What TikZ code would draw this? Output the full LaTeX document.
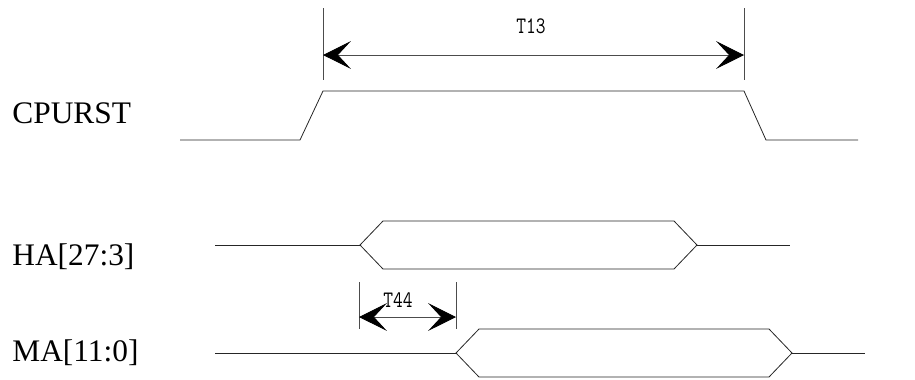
\documentclass[tikz,border=0pt]{standalone}
\usepackage{fontspec}
\setmainfont{Liberation Serif}
\usetikzlibrary{arrows.meta}

\begin{document}
\begin{tikzpicture}[x=1bp, y=-1bp, line width=0.8bp,
  every signal/.style={font=\fontsize{31.5}{31.5}\selectfont, anchor=base west, inner sep=0pt},
  wave/.style={draw=black!85},
  tickline/.style={draw=black!70},
  dimarrow/.style={draw=black!70, {Stealth[length=28bp,width=28bp,inset=13bp,black]}-{Stealth[length=28bp,width=28bp,inset=13bp,black]}},
  dimlabel/.style={font=\ttfamily\fontsize{19}{19}\selectfont, inner sep=0pt}]

\useasboundingbox (0,0) rectangle (915,379);

% signal names
\foreach \n/\t/\y in {cpurst/CPURST/123, ha/{HA[27:3]}/265, ma/{MA[11:0]}/361}
  \node [every signal] (name-\n) at (12,\y) {\t};

% CPURST
\draw [wave] (180,140) -- (300,140) -- (323,91) -- (744,91) -- (766,140) -- (858,140);

% address buses
\foreach \n/\y/\a/\b/\l/\r in {ha/245/360/697/215/790, ma/353/456/792/215/865} {
  \draw [wave] (\l,\y) -- (\a,\y);
  \draw [wave] (\a,\y) -- (\a+23,\y-24) -- (\b-23,\y-24) -- (\b,\y)
    -- (\b-23,\y+24) -- (\a+23,\y+24) -- cycle;
  \draw [wave] (\b,\y) -- (\r,\y);
}

% timing marks
\foreach \n/\x/\top/\bot in {t13-a/323/8/80, t13-b/744/8/80, t44-a/359/282/329, t44-b/456/282/329} {
  \coordinate (\n-top) at (\x,\top);
  \coordinate (\n-bot) at (\x,\bot);
  \draw [tickline] (\n-top) -- (\n-bot);
}

\coordinate (t13-l) at (323,55);
\coordinate (t13-r) at (744,55);
\coordinate (t44-l) at (359,317);
\coordinate (t44-r) at (456,317);

\draw [dimarrow] (t13-l) -- (t13-r);
\draw [dimarrow] (t44-l) -- (t44-r);

\node [dimlabel] (lbl-t13) at (531,26) {\scalebox{1}[1.25]{T13}};
\node [dimlabel] (lbl-t44) at (398,300) {\scalebox{1}[1.25]{T44}};

\end{tikzpicture}
\end{document}
